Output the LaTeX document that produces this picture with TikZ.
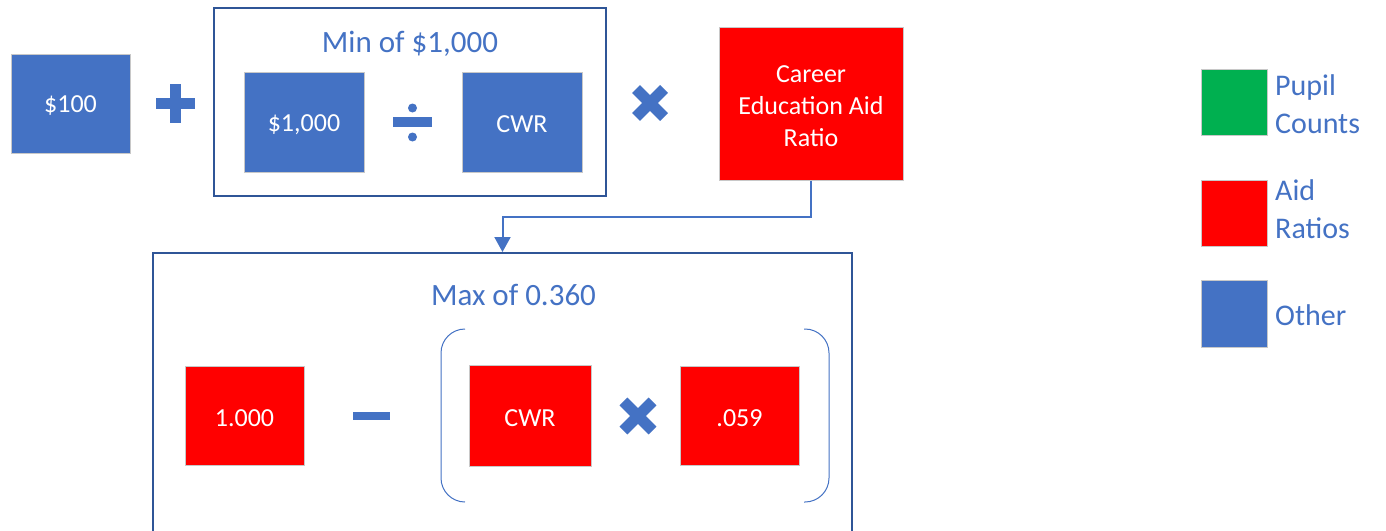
\documentclass[tikz,border=0pt]{standalone}
\usepackage{fontspec}
\setmainfont{Carlito}
\usetikzlibrary{arrows.meta}
\definecolor{obl}{HTML}{4472C4}
\definecolor{ored}{HTML}{FF0000}
\definecolor{ogrn}{HTML}{00B050}
\definecolor{odark}{HTML}{2F5597}
\definecolor{ogray}{HTML}{C8C8C8}
\newcommand{\lowtext}[2][2.5pt]{\raisebox{-#1}[\height][\depth]{#2}}
\tikzset{
  valbox/.style={draw=ogray, line width=1pt, inner sep=0pt, text=white,
    font=\fontsize{26}{32}\selectfont, align=center},
  bluebox/.style={valbox, fill=obl},
  redbox/.style={valbox, fill=ored},
  frame/.style={draw=odark, line width=2pt, inner sep=0pt},
  title/.style={text=obl, font=\fontsize{31}{36}\selectfont, anchor=base, inner sep=0pt},
  legtext/.style={text=obl, font=\fontsize{30}{38}\selectfont, anchor=west, align=left, inner sep=0pt},
  symb/.style={fill=obl},
  conn/.style={draw=obl, line width=2pt},
  paren/.style={draw=obl, line width=1pt, rounded corners=24pt},
}
\begin{document}
\begin{tikzpicture}[x=1pt,y=-1pt]
\clip (0,0) rectangle (1386,530);
\fill[white] (0,0) rectangle (1386,530);
% top row
\node[bluebox, minimum width=119pt, minimum height=99pt] (b100) at (70.5,103.5) {\lowtext{\$100}};
\fill[symb] (156,98) rectangle (195,109);
\fill[symb] (170,84) rectangle (181,123);
\node[frame, minimum width=392pt, minimum height=188pt] (minbox) at (410,102) {};
\node[title] (mintitle) at (410,52) {Min of \$1,000};
\node[bluebox, minimum width=120pt, minimum height=100pt] (b1000) at (304,122) {\lowtext{\$1,000}};
\fill[symb] (393,117) rectangle (432,127);
\fill[symb] (412.5,108) circle (4.5);
\fill[symb] (412.5,137) circle (4.5);
\node[bluebox, minimum width=120pt, minimum height=100pt] (cwrb) at (522,122) {\lowtext{CWR}};
\draw[obl, line width=11pt] (636,89) -- (664,117);
\draw[obl, line width=11pt] (636,117) -- (664,89);
\node[redbox, minimum width=184pt, minimum height=153pt] (career) at (811,103.5)
  {\lowtext[4.5pt]{\begin{tabular}{@{}c@{}}Career\\Education Aid\\Ratio\end{tabular}}};
% bottom frame
\node[frame, minimum width=699pt, minimum height=347pt] (maxbox) at (502.5,426.5) {};
\node[title] (maxtitle) at (513.5,305) {Max of 0.360};
\draw[conn, -{Triangle[width=16pt,length=15pt]}] (career.south) -- ++(0,36) -| (maxbox.north);
\node[redbox, minimum width=119pt, minimum height=99pt] (one) at (244.5,415.5) {\lowtext{1.000}};
\fill[symb] (353,412) rectangle (390,420);
\draw[paren] (465,329) -- (441,329) -- (441,502) -- (465,502);
\node[redbox, minimum width=122pt, minimum height=101pt] (cwrr) at (530,415.5) {\lowtext{CWR}};
\draw[obl, line width=11pt] (623.4,401.4) -- (652.6,430.6);
\draw[obl, line width=11pt] (623.4,430.6) -- (652.6,401.4);
\node[redbox, minimum width=119pt, minimum height=99pt] (r059) at (739.5,415.5) {\lowtext{.059}};
\draw[paren] (804,329) -- (829,329) -- (829,502) -- (804,502);
% legend
\node[valbox, fill=ogrn, minimum width=66pt, minimum height=66pt] (lg) at (1234,102) {};
\node[legtext] (lgt) at (1275,104) {Pupil\\Counts};
\node[valbox, fill=ored, minimum width=66pt, minimum height=66pt] (lr) at (1234,213) {};
\node[legtext] (lrt) at (1275,209) {Aid\\Ratios};
\node[valbox, fill=obl, minimum width=66pt, minimum height=67pt] (lb) at (1234,313.5) {};
\node[legtext] (lbt) at (1275,315) {Other};
\end{tikzpicture}
\end{document}
